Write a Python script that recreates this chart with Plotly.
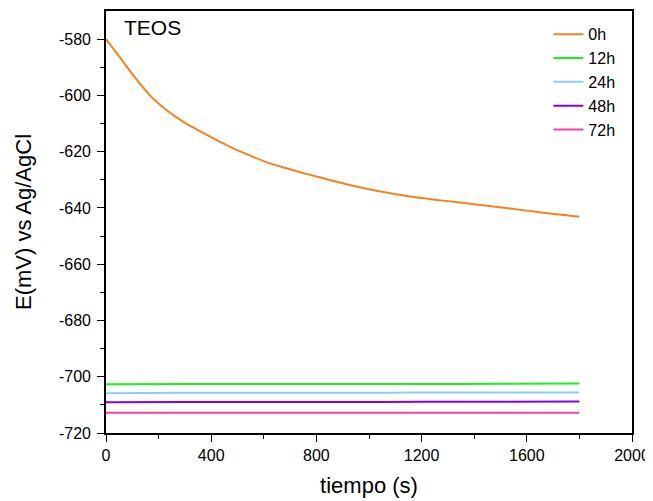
import plotly.graph_objects as go

# time (s) and potentials (mV vs Ag/AgCl)
t_0h = [0, 53, 104, 167, 231, 294, 357, 421, 484, 548, 611, 675, 738, 807, 902, 1029, 1156, 1282, 1409, 1536, 1663, 1800]
e_0h = [-580.0, -586.5, -592.9, -600.0, -605.3, -609.4, -612.7, -615.9, -618.8, -621.4, -623.8, -625.6, -627.3,
        -629.0, -631.3, -633.9, -635.9, -637.4, -638.8, -640.2, -641.7, -643.1]

t_flat = [0, 300, 600, 900, 1200, 1500, 1800]
e_12h = [-702.7, -702.6, -702.6, -702.6, -702.6, -702.5, -702.4]
e_24h = [-705.9, -705.7, -705.7, -705.7, -705.6, -705.6, -705.6]
e_48h = [-709.1, -709.0, -709.0, -709.0, -708.9, -708.9, -708.8]
e_72h = [-712.8, -712.8, -712.8, -712.8, -712.8, -712.8, -712.8]

names = ["0h", "12h", "24h", "48h", "72h"]
colors = ["#F5821F", "#1EF01E", "#87CEFA", "#8000FF", "#FF3FA0"]
series = [(t_0h, e_0h), (t_flat, e_12h), (t_flat, e_24h), (t_flat, e_48h), (t_flat, e_72h)]

x_ticks = [0, 400, 800, 1200, 1600, 2000]
x_minor = [200, 600, 1000, 1400, 1800]
y_ticks = [-720, -700, -680, -660, -640, -620, -600, -580]
y_minor = [-710, -690, -670, -650, -630, -610, -590]

fig = go.Figure()
for (x, y), n, c in zip(series, names, colors):
    fig.add_trace(go.Scatter(x=x, y=y, mode="lines", name=n,
                             line=dict(color=c, width=2, shape="spline", smoothing=0.5)))

font = "Liberation Sans, Arial, sans-serif"
common = dict(showline=True, linecolor="black", linewidth=1.6, mirror=True,
              ticks="outside", ticklen=7, tickwidth=1.3, tickcolor="black",
              showgrid=False, zeroline=False,
              tickfont=dict(family=font, size=16, color="black"))
minor_style = dict(ticks="outside", ticklen=4, tickwidth=1.3, tickcolor="black")

fig.update_layout(
    width=645, height=493,
    margin=dict(l=98, r=21, t=1, b=68),
    paper_bgcolor="white", plot_bgcolor="white",
    font=dict(family=font, color="black"),
    xaxis=dict(range=[0, 2000], tickvals=x_ticks, ticktext=[str(v) for v in x_ticks],
               title=dict(text="tiempo (s)", font=dict(family=font, size=22), standoff=15),
               minor=dict(tickvals=x_minor, **minor_style), **common),
    yaxis=dict(range=[-720, -570], tickvals=y_ticks, ticktext=[str(v) for v in y_ticks],
               title=dict(text="E(mV) vs Ag/AgCl", font=dict(family=font, size=22), standoff=21),
               ticklabelstandoff=3,
               minor=dict(tickvals=y_minor, **minor_style), **common),
    legend=dict(x=0.841, y=0.985, xanchor="left", yanchor="top",
                font=dict(family=font, size=16), bgcolor="rgba(0,0,0,0)"),
    showlegend=True,
)
fig.add_annotation(text="TEOS", xref="paper", yref="paper", x=0.03, y=0.96,
                   xanchor="left", yanchor="middle", showarrow=False,
                   font=dict(family=font, size=21, color="black"))

fig.write_html("out.html")
